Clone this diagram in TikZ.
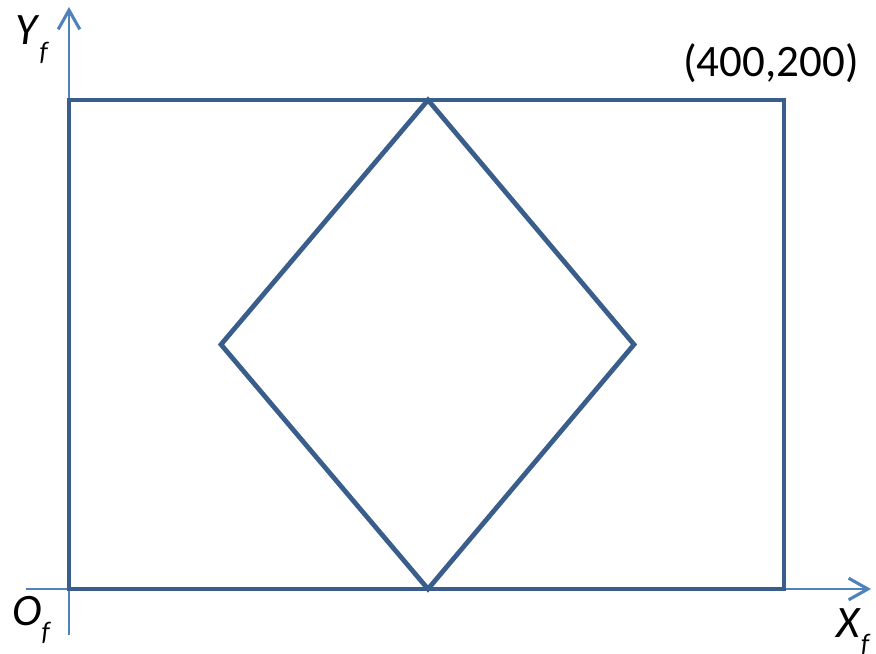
\documentclass[tikz,border=0pt]{standalone}
\usepackage{fontspec}
\setmainfont{Carlito}
\usetikzlibrary{arrows.meta}
\definecolor{framecol}{RGB}{58,94,140}
\definecolor{axiscol}{RGB}{79,129,189}
\newcommand{\axlabel}[2]{\textit{#1}\raisebox{-0.35em}{\fontsize{19}{19}\selectfont\textit{#2}}}

\begin{document}
\begin{tikzpicture}[x=0.25mm, y=0.25mm,
    axis/.style={axiscol, line width=1.5pt, -{Straight Barb[length=4.8mm, width=5.4mm, line width=2.2pt]}},
    frame/.style={framecol, line width=3.4pt, line join=miter},
    lbl/.style={font=\fontsize{32}{32}\selectfont, inner sep=0pt}]
    \useasboundingbox (-69,-64) rectangle (807,589);

    % Axes
    \coordinate (xstart) at (-43,0);
    \coordinate (xend) at (802,0);
    \coordinate (ystart) at (0,-46);
    \coordinate (yend) at (0,582);
    \draw[axis] (xstart) -- (xend);
    \draw[axis] (ystart) -- (yend);

    % Field
    \coordinate (O) at (0,0);
    \coordinate (C) at (715,489);
    \draw[frame] (O) rectangle (C);

    % Diamond
    \coordinate (dB) at (359,0);
    \coordinate (dR) at (565,244.5);
    \coordinate (dT) at (359,489);
    \coordinate (dL) at (152,244.5);
    \draw[frame] (dB) -- (dR) -- (dT) -- (dL) -- cycle;

    % Labels
    \node[lbl, anchor=base] (corner) at (702,513) {(400,200)};
    \node[lbl, anchor=base west] (ylab) at (-54,544) {\axlabel{Y}{f}};
    \node[lbl, anchor=base west] (olab) at (-57,-36) {\axlabel{O}{f}};
    \node[lbl, anchor=base west] (xlab) at (767,-48) {\axlabel{X}{f}};
\end{tikzpicture}
\end{document}
